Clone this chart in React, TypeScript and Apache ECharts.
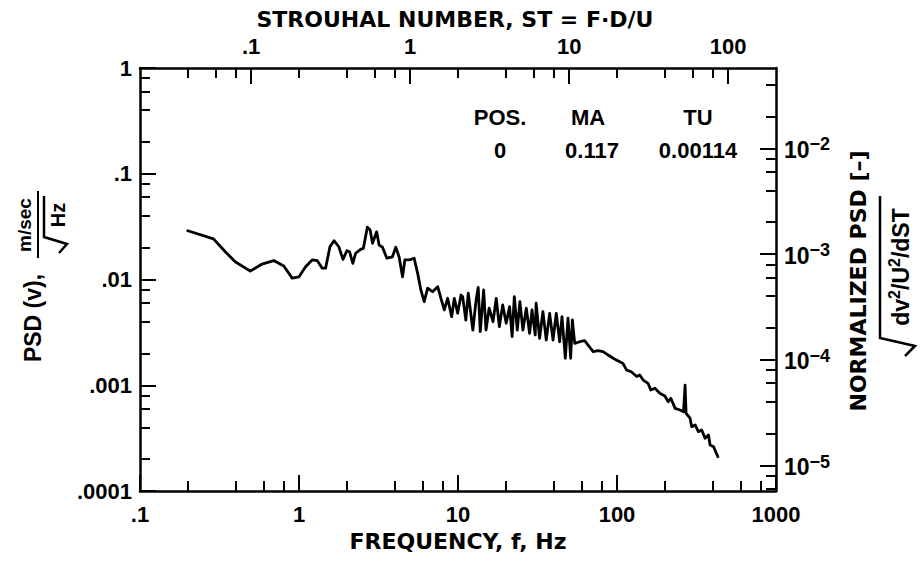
import React, { useEffect, useRef } from 'react';
import * as echarts from 'echarts';

// Spectrum: frequency (Hz) and PSD (m/sec/sqrt(Hz))
const freq = [
  0.2, 0.29, 0.344, 0.397, 0.494, 0.586, 0.693, 0.802, 0.906, 1.0,
  1.1, 1.21, 1.3, 1.4, 1.47, 1.565, 1.66, 1.78, 1.89, 2.0,
  2.08, 2.18, 2.27, 2.44, 2.54, 2.69, 2.8, 2.9, 3.08, 3.19,
  3.35, 3.57, 3.87, 4.06, 4.26, 4.48, 4.63, 4.93, 5.3, 5.57,
  5.84, 6.13, 6.44, 6.92, 7.45, 7.81, 8.2, 8.61, 9.12, 9.48,
  9.95, 10.45, 10.7, 11.2, 11.6, 12.4, 13.0, 13.4, 13.8, 14.5,
  15.0, 15.7, 16.6, 17.4, 18.2, 19.1, 20.1, 21.1, 21.9, 22.6,
  23.6, 24.5, 25.6, 26.9, 28.2, 29.2, 30.6, 31.0, 32.6, 34.2,
  35.9, 37.7, 39.6, 41.5, 43.6, 45.1, 47.3, 49.2, 51.1, 52.4,
  54.2, 58.3, 62.6, 65.8, 70.8, 76.1, 81.8, 88.0, 94.6, 104,
  109, 115, 123, 133, 139, 146, 157, 163, 173, 186,
  200, 210, 218, 232, 249, 262, 268, 272, 288, 295,
  310, 325, 341, 358, 376, 385, 405, 431,
];
const psd = [
  0.0289, 0.0242, 0.0183, 0.0147, 0.012, 0.014, 0.0151, 0.0134, 0.0103, 0.0106,
  0.0132, 0.0153, 0.0151, 0.0128, 0.0128, 0.0204, 0.0233, 0.0204, 0.0155, 0.0187,
  0.0183, 0.0142, 0.0177, 0.0193, 0.0197, 0.0312, 0.0294, 0.022, 0.0283, 0.0212,
  0.0202, 0.0159, 0.0164, 0.0202, 0.0164, 0.0106, 0.0153, 0.0153, 0.0159, 0.0115,
  0.00796, 0.00617, 0.00826, 0.00767, 0.00855, 0.00664, 0.00515, 0.00664, 0.00445, 0.00664,
  0.00479, 0.00713, 0.00687, 0.00414, 0.00741, 0.00333, 0.0064, 0.00843, 0.00321, 0.00796,
  0.00333, 0.00535, 0.00399, 0.00664, 0.00358, 0.00574, 0.00385, 0.00553, 0.00288, 0.00687,
  0.00333, 0.00617, 0.00333, 0.00535, 0.0031, 0.00515, 0.00299, 0.00596, 0.00278, 0.00496,
  0.00268, 0.00479, 0.00268, 0.00479, 0.00258, 0.00445, 0.0018, 0.0043, 0.0018, 0.00414,
  0.00249, 0.00258, 0.00264, 0.0024, 0.00208, 0.00212, 0.00208, 0.00193, 0.0018, 0.00167,
  0.00161, 0.00139, 0.00134, 0.00121, 0.00125, 0.00112, 0.00104, 0.000902, 0.000936, 0.000839,
  0.000791, 0.000698, 0.000753, 0.000605, 0.000583, 0.000562, 0.001, 0.000543, 0.000488, 0.000406,
  0.000421, 0.000364, 0.000378, 0.000315, 0.000339, 0.000272, 0.000262, 0.000211,
];

// Axes
const freqRange = [0.1, 1000];
const freqTicks = [0.1, 1, 10, 100, 1000];
const freqTickLabels = ['.1', '1', '10', '100', '1000'];
const freqMinorTicks = [0.2, 0.4, 0.6, 0.8, 2, 4, 6, 8, 20, 40, 60, 80, 200, 400, 600, 800];

const stRange = [0.02, 200];
const stTicks = [0.1, 1, 10, 100];
const stTickLabels = ['.1', '1', '10', '100'];
const stMinorTicks = [0.04, 0.06, 0.08, 0.2, 0.4, 0.6, 0.8, 2, 4, 6, 8, 20, 40, 60, 80];

const psdRange = [0.0001, 1];
const psdTicks = [0.0001, 0.001, 0.01, 0.1, 1];
const psdTickLabels = ['.0001', '.001', '.01', '.1', '1'];
const psdMinorTicks = [2e-4, 4e-4, 6e-4, 8e-4, 2e-3, 4e-3, 6e-3, 8e-3, 0.02, 0.04, 0.06, 0.08, 0.2, 0.4, 0.6, 0.8];

const normRange = [5.74e-6, 0.0574];
const normTicks = [1e-5, 1e-4, 1e-3, 1e-2];
const normTickExponents = ['−5', '−4', '−3', '−2'];
const normMinorTicks = [6e-6, 8e-6, 2e-5, 4e-5, 6e-5, 8e-5, 2e-4, 4e-4, 6e-4, 8e-4, 2e-3, 4e-3, 6e-3, 8e-3, 0.02, 0.04];

// Annotation table
const tableHeaders = ['POS.', 'MA', 'TU'];
const tableValues = ['0', '0.117', '0.00114'];

const NUM_FONT = 'Liberation Sans';
const WIDE_FONT = 'DejaVu Sans';
const INK = '#000';

const findLabel = (ticks: number[], labels: string[]) => (v: number) => {
  const i = ticks.findIndex((t) => Math.abs(Math.log10(t) - Math.log10(v)) < 1e-6);
  return i >= 0 ? labels[i] : '';
};

const labelStyle = { color: INK, fontFamily: NUM_FONT, fontWeight: 'bold' as const, fontSize: 22 };

function majorAxis(range: number[], ticks: number[], position: string, labelCfg: any) {
  return {
    type: 'log',
    logBase: 10,
    min: range[0],
    max: range[1],
    position,
    axisLine: { show: true, onZero: false, lineStyle: { color: INK, width: 2.5 } },
    axisTick: { show: true, inside: true, length: 16, customValues: ticks, lineStyle: { color: INK, width: 2 } },
    axisLabel: { customValues: ticks, ...labelStyle, ...labelCfg },
    splitLine: { show: false },
    minorTick: { show: false },
    minorSplitLine: { show: false },
  };
}

function minorAxis(range: number[], ticks: number[], position: string) {
  return {
    type: 'log',
    logBase: 10,
    min: range[0],
    max: range[1],
    position,
    axisLine: { show: false, onZero: false },
    axisTick: { show: true, inside: true, length: 10, customValues: ticks, lineStyle: { color: INK, width: 2 } },
    axisLabel: { show: false },
    splitLine: { show: false },
    minorTick: { show: false },
    minorSplitLine: { show: false },
  };
}

function rotText(x: number, y: number, text: string, fontSize: number, family: string, extra: any = {}) {
  return {
    type: 'text',
    x,
    y,
    rotation: Math.PI / 2,
    style: {
      text,
      fill: INK,
      fontSize,
      fontWeight: 'bold',
      fontFamily: family,
      align: 'center',
      verticalAlign: 'middle',
      textAlign: 'center',
      textVerticalAlign: 'middle',
      ...extra,
    },
  };
}

function flatText(x: number, y: number, text: string, fontSize: number, family: string) {
  return {
    type: 'text',
    x,
    y,
    style: {
      text,
      fill: INK,
      fontSize,
      fontWeight: 'bold',
      fontFamily: family,
      align: 'center',
      verticalAlign: 'middle',
      textAlign: 'center',
      textVerticalAlign: 'middle',
    },
  };
}

const tableX = [500, 588, 698];

export default function App() {
  const ref = useRef<HTMLDivElement>(null);
  useEffect(() => {
    document.body.style.margin = '0';
    const chart = echarts.init(ref.current!, null, { renderer: 'svg' });
    const lineData = freq.map((f, i) => [f, psd[i]]);
    const option: any = {
      animation: false,
      backgroundColor: '#fff',
      grid: { left: 140, top: 68, width: 636, height: 423, containLabel: false },
      xAxis: [
        majorAxis(freqRange, freqTicks, 'bottom', { margin: 12, formatter: findLabel(freqTicks, freqTickLabels) }),
        minorAxis(freqRange, freqMinorTicks, 'bottom'),
        majorAxis(stRange, stTicks, 'top', { margin: 12, lineHeight: 20, formatter: findLabel(stTicks, stTickLabels) }),
        minorAxis(stRange, stMinorTicks, 'top'),
      ],
      yAxis: [
        majorAxis(psdRange, psdTicks, 'left', { margin: 8, formatter: findLabel(psdTicks, psdTickLabels) }),
        minorAxis(psdRange, psdMinorTicks, 'left'),
        majorAxis(normRange, normTicks, 'right', {
          margin: 8,
          formatter: (v: number) => `{b|10}{s|${findLabel(normTicks, normTickExponents)(v)}}`,
          rich: {
            b: { fontFamily: NUM_FONT, fontWeight: 'bold', fontSize: 23, color: INK, lineHeight: 26, verticalAlign: 'bottom' },
            s: { fontFamily: NUM_FONT, fontWeight: 'bold', fontSize: 18, color: INK, lineHeight: 14, verticalAlign: 'top' },
          },
        }),
        minorAxis(normRange, normMinorTicks, 'right'),
      ],
      series: [
        {
          type: 'line',
          xAxisIndex: 0,
          yAxisIndex: 0,
          data: lineData,
          showSymbol: false,
          symbol: 'none',
          lineStyle: { color: INK, width: 2.8, join: 'round', cap: 'round' },
          silent: true,
        },
      ],
      graphic: [
        { ...flatText(455, 19, 'STROUHAL NUMBER, ST = F·D/U', 22, WIDE_FONT), style: { ...flatText(455, 19, 'STROUHAL NUMBER, ST = F·D/U', 22, WIDE_FONT).style, lineHeight: 22 } },
        flatText(458, 541, 'FREQUENCY, f, Hz', 22, WIDE_FONT),
        // left axis name
        rotText(33, 318, 'PSD (v),', 23, NUM_FONT),
        rotText(24, 225, 'm/sec', 19, NUM_FONT),
        { type: 'line', shape: { x1: 38, y1: 191, x2: 38, y2: 258 }, style: { stroke: INK, lineWidth: 2 } },
        {
          type: 'polyline',
          shape: { points: [[44, 196], [44, 237], [67, 244], [59, 253]] },
          style: { stroke: INK, lineWidth: 2.5, fill: null },
        },
        rotText(58, 215, 'Hz', 20, NUM_FONT),
        // right axis name
        rotText(858, 281, 'NORMALIZED PSD [–]', 22, WIDE_FONT),
        {
          type: 'polyline',
          shape: { points: [[880, 196], [880, 338], [915, 346], [905, 356]] },
          style: { stroke: INK, lineWidth: 2.5, fill: null },
        },
        rotText(899, 267, '{a|dv}{s|2}{a|/U}{s|2}{a|/dST}', 23, NUM_FONT, {
          rich: {
            a: { fontFamily: NUM_FONT, fontWeight: 'bold', fontSize: 23, fill: INK, lineHeight: 26, verticalAlign: 'bottom' },
            s: { fontFamily: NUM_FONT, fontWeight: 'bold', fontSize: 16, fill: INK, lineHeight: 14, verticalAlign: 'top' },
          },
        }),
        // annotation table
        ...tableHeaders.map((t, i) => flatText(tableX[i], 117, t, 22, NUM_FONT)),
        ...tableValues.map((t, i) => flatText(tableX[i] + (i === 1 ? 4 : 0), 150, t, 22, NUM_FONT)),
      ],
    };
    chart.setOption(option);
    return () => chart.dispose();
  }, []);
  return (
    <div
      ref={ref}
      style={{ position: 'absolute', left: 0, top: 0, width: 920, height: 563, background: '#fff' }}
    />
  );
}
